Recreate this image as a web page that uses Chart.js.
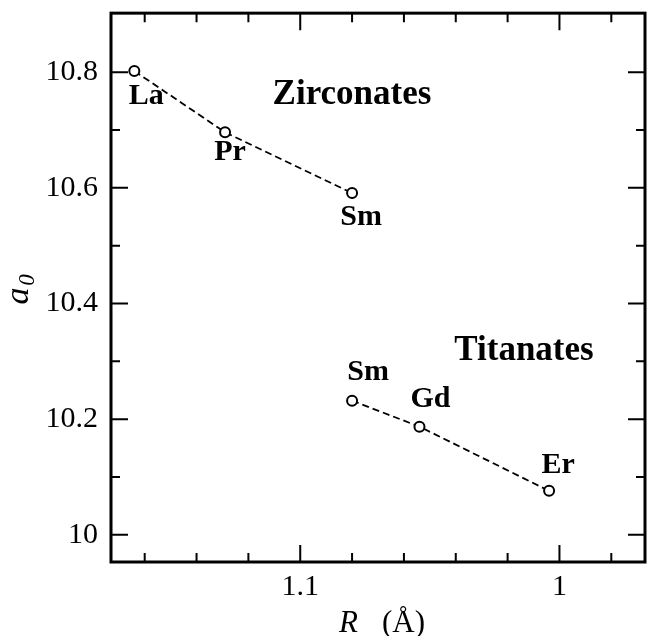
<!DOCTYPE html>
<html>
<head>
<meta charset="utf-8">
<script src="https://cdn.jsdelivr.net/npm/chart.js@4.4.1/dist/chart.umd.min.js"></script>
<style>
  html, body { margin: 0; padding: 0; background: #fff; }
  #wrap { width: 648px; height: 636px; }
</style>
</head>
<body>
<div id="wrap"><canvas id="mycanvas"></canvas></div>
<script>
// zirconates
var zrNames = ['La', 'Pr', 'Sm'];
var zrR = [1.164, 1.129, 1.080];
var zrA = [10.802, 10.696, 10.591];
// titanates
var tiNames = ['Sm', 'Gd', 'Er'];
var tiR = [1.080, 1.054, 1.004];
var tiA = [10.232, 10.187, 10.076];

var xTicks = [1.0, 1.1];
var xMinor = [0.98, 1.02, 1.04, 1.06, 1.08, 1.12, 1.14, 1.16];
var yTicks = [10.0, 10.2, 10.4, 10.6, 10.8];
var yMinor = [10.1, 10.3, 10.5, 10.7];

var serif = "'Liberation Serif', 'Times New Roman', serif";

function pts(xs, ys) {
	var out = [];
	for (var i in xs) out.push({x: xs[i], y: ys[i]});
	return out;
}

var frame = {
	id: 'frame',
	afterDraw: function(chart) {
		var ctx = chart.ctx;
		var a = chart.chartArea;
		var xs = chart.scales.x, ys = chart.scales.y;
		ctx.save();
		ctx.strokeStyle = '#000';
		ctx.lineWidth = 3;
		ctx.strokeRect(a.left, a.top, a.right - a.left, a.bottom - a.top);

		function xt(v, len) {
			var p = xs.getPixelForValue(v);
			ctx.beginPath();
			ctx.moveTo(p, a.bottom); ctx.lineTo(p, a.bottom - len);
			ctx.moveTo(p, a.top); ctx.lineTo(p, a.top + len);
			ctx.stroke();
		}
		function yt(v, len) {
			var p = ys.getPixelForValue(v);
			ctx.beginPath();
			ctx.moveTo(a.left, p); ctx.lineTo(a.left + len, p);
			ctx.moveTo(a.right, p); ctx.lineTo(a.right - len, p);
			ctx.stroke();
		}
		ctx.lineWidth = 2;
		xTicks.forEach(function(v){ xt(v, 17); });
		xMinor.forEach(function(v){ xt(v, 9); });
		yTicks.forEach(function(v){ yt(v, 17); });
		yMinor.forEach(function(v){ yt(v, 9); });

		// point labels
		ctx.fillStyle = '#000';
		ctx.textAlign = 'center';
		ctx.textBaseline = 'alphabetic';
		ctx.font = 'bold 30px ' + serif;
		chart.data.datasets.forEach(function(ds) {
			ds.data.forEach(function(d, i) {
				var off = ds.labelOffsets[i];
				ctx.fillText(ds.names[i], xs.getPixelForValue(d.x) + off[0], ys.getPixelForValue(d.y) + off[1]);
			});
		});

		ctx.font = 'bold 35px ' + serif;
		ctx.fillText('Zirconates', 352, 104);
		ctx.fillText('Titanates', 524, 360);

		// x title
		ctx.textAlign = 'left';
		ctx.font = 'italic 31px ' + serif;
		ctx.fillText('R', 339, 632);
		ctx.font = '31px ' + serif;
		ctx.fillText('(Å)', 382, 632);

		// y title
		ctx.translate(28, 296);
		ctx.rotate(-Math.PI / 2);
		ctx.textAlign = 'center';
		ctx.font = 'italic 34px ' + serif;
		ctx.fillText('a', 0, 0);
		ctx.font = 'italic 23px ' + serif;
		ctx.fillText('0', 16, 6);
		ctx.restore();
	}
};

var common = {
	showLine: true,
	borderColor: '#000',
	borderWidth: 1.8,
	borderDash: [7, 4],
	pointRadius: 5,
	pointBorderWidth: 2,
	pointBorderColor: '#000',
	pointBackgroundColor: '#fff'
};

var ctx = document.getElementById('mycanvas');
var scatter = new Chart(ctx, {
	type: 'scatter',
	data: {
		datasets: [
			Object.assign({label: 'Zirconates', data: pts(zrR, zrA), names: zrNames,
				labelOffsets: [[12, 33], [5, 28], [9, 32]]}, common),
			Object.assign({label: 'Titanates', data: pts(tiR, tiA), names: tiNames,
				labelOffsets: [[16, -21], [11, -20], [9, -18]]}, common)
		]
	},
	options: {
		responsive: true,
		maintainAspectRatio: false,
		animation: false,
		layout: { autoPadding: false, padding: { top: 0, right: 3, left: 0, bottom: 0 } },
		plugins: { legend: { display: false }, tooltip: { enabled: false } },
		scales: {
			x: {
				type: 'linear',
				reverse: true,
				min: 0.967,
				max: 1.173,
				grid: { display: false, drawTicks: false },
				border: { display: false },
				afterBuildTicks: function(s) { s.ticks = xTicks.map(function(v){ return {value: v}; }); },
				afterFit: function(s) { s.height = 74; },
				ticks: {
					color: '#000',
					padding: 7,
					font: { family: serif, size: 30 },
					callback: function(v) { return String(v); }
				}
			},
			y: {
				type: 'linear',
				min: 9.953,
				max: 10.902,
				grid: { display: false, drawTicks: false },
				border: { display: false },
				afterBuildTicks: function(s) { s.ticks = yTicks.map(function(v){ return {value: v}; }); },
				afterFit: function(s) { s.width = 111; },
				ticks: {
					color: '#000',
					padding: 13,
					font: { family: serif, size: 30, lineHeight: 0.01 },
					callback: function(v) { return String(Math.round(v * 10) / 10); }
				}
			}
		}
	},
	plugins: [frame]
});
</script>
</body>
</html>
